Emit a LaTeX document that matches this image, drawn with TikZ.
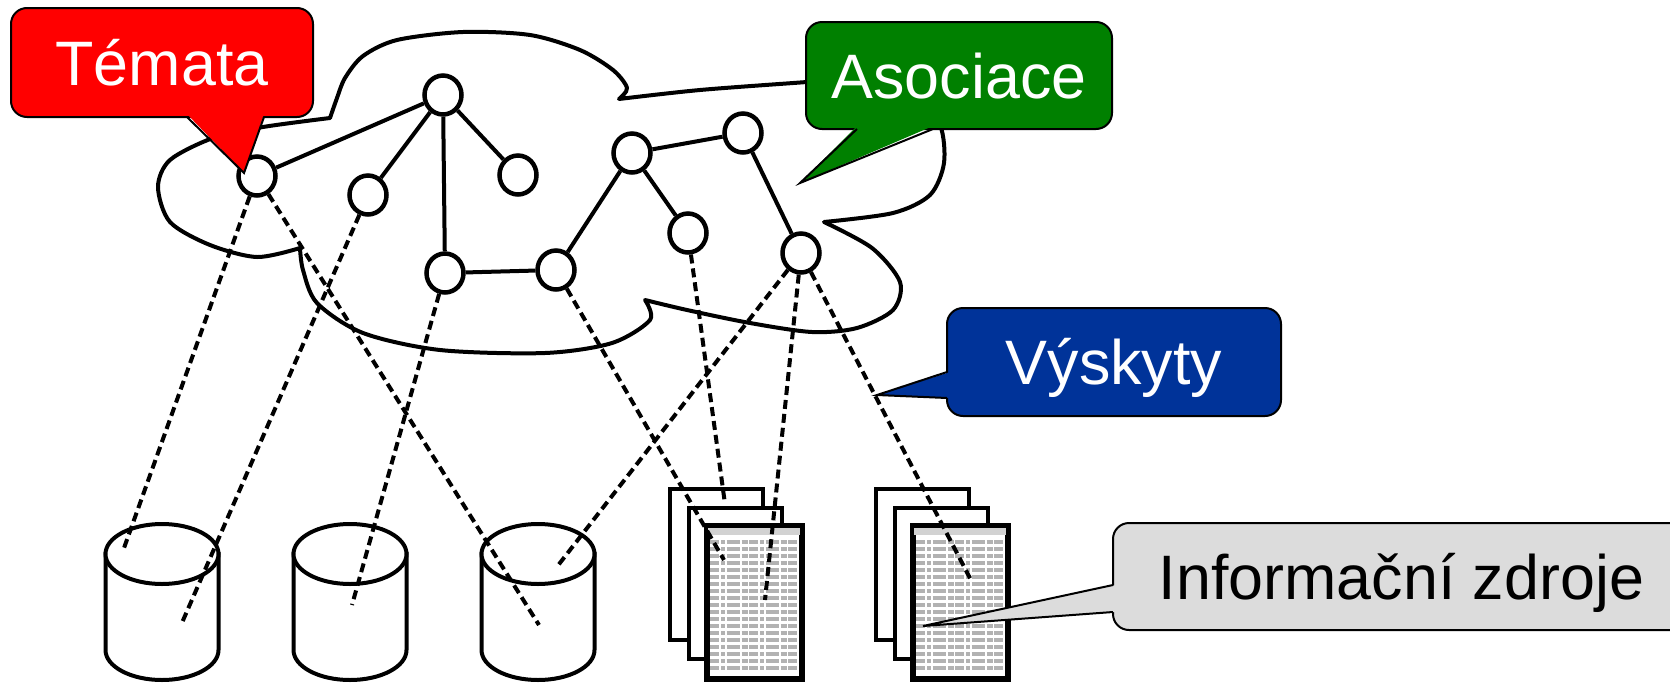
\documentclass[tikz,border=0pt]{standalone}
\usepackage{fontspec}
\setmainfont{Liberation Sans}
\usetikzlibrary{shapes.geometric}

\definecolor{temared}{RGB}{255,0,0}
\definecolor{asocgreen}{RGB}{0,128,0}
\definecolor{vyskblue}{RGB}{0,51,153}
\definecolor{zdrojgray}{RGB}{220,220,220}

\tikzset{
  topic/.style={ellipse, draw, line width=4.5pt, fill=white, minimum width=37pt, minimum height=39pt, inner sep=0pt},
  assoc/.style={line width=4pt},
  occur/.style={line width=4pt, dash pattern=on 9pt off 5pt},
  cloudline/.style={line width=4pt, line join=round},
  dbline/.style={line width=4pt, fill=white},
  page/.style={draw, line width=4pt, fill=white, minimum width=93pt, minimum height=151pt, inner sep=0pt},
  textrow/.style={gray!60, line width=3.5pt, dash pattern=on 9pt off 2pt on 4pt off 1.5pt on 13pt off 2pt on 6pt off 1.5pt},
  callbox/.style={draw, line width=2pt, rounded corners=16pt, inner sep=0pt, text height=45pt, text depth=0pt, font=\fontsize{62.8}{70}\selectfont},
  pointer/.style={draw, line width=2pt, line join=miter},
}

\begin{document}
\begin{tikzpicture}[x=1pt, y=-1pt]
\useasboundingbox (0,0) rectangle (1670,683);

% cloud of topics
\draw[cloudline] plot[smooth] coordinates {(330,118) (337,98) (345,78) (363,56) (397,40) (463,32) (530,35) (580,50) (613,70) (627,88) (619,99)}
  -- plot[smooth] coordinates {(619,99) (700,90) (807,82) (860,78)}
  -- plot[smooth] coordinates {(860,78) (915,95) (940,125) (944,163) (930,195) (893,213) (824,222)}
  -- plot[smooth] coordinates {(824,222) (872,248) (900,282) (893,310) (857,328) (812,332) (750,323) (687,310) (645,300)}
  -- plot[smooth] coordinates {(645,300) (650,320) (612,343) (545,353) (440,350) (363,333) (317,303) (303,270) (300,248)}
  -- plot[smooth] coordinates {(300,248) (257,257) (210,245) (170,222) (158,187) (170,160) (213,138) (263,127) (330,118)} -- cycle;

\node[topic] (a) at (257,176) {};
\node[topic] (b) at (443,95) {};
\node[topic] (c) at (368,195) {};
\node[topic] (d) at (518,175) {};
\node[topic] (e) at (445,273) {};
\node[topic] (f) at (556,270) {};
\node[topic] (g) at (632,153) {};
\node[topic] (h) at (743,133) {};
\node[topic] (i) at (688,233) {};
\node[topic] (j) at (801,253) {};

\foreach \u/\v in {a/b, b/c, b/d, b/e, e/f, f/g, g/h, g/i, h/j}
\draw[assoc] (\u) -- (\v);

% information resources
\foreach \s/\x in {1/716, 2/922} {
  \foreach \k in {0,1,2}
  \node[page] (doc\s\k) at (\x+19*\k, 564+19*\k) {};
  \fill[gray!35] (\x-8, 528) rectangle (\x+84, 535);
  \foreach \r in {0,...,18}
  \draw[textrow] (\x-6, 542+7*\r) -- (\x+82, 542+7*\r);
  \draw[line width=4pt] (doc\s2.south west) rectangle (doc\s2.north east);
}
\foreach \n/\x in {1/162, 2/350, 3/538} {
  \coordinate (db\n) at (\x,554);
  \filldraw[dbline] (\x-56.5,554) -- (\x-56.5,650) arc[start angle=180, end angle=360, x radius=56.5pt, y radius=30pt] -- (\x+56.5,554) -- cycle;
  \draw[dbline] (db\n) ellipse [x radius=56.5pt, y radius=30pt];
}

\coordinate (t1) at (124,548);
\coordinate (t2) at (181,625);
\coordinate (t3) at (352,605);
\coordinate (t4) at (539,625);
\coordinate (t5) at (556,568);
\coordinate (t6) at (724,560);
\coordinate (t7) at (725,504);
\coordinate (t8) at (765,600);
\coordinate (t9) at (972,582);

\draw[occur] (a) -- (t1);
\draw[occur] (a) -- (t4);
\draw[occur] (c) -- (t2);
\draw[occur] (e) -- (t3);
\draw[occur] (f) -- (t6);
\draw[occur] (i) -- (t7);
\draw[occur] (j) -- (t5);
\draw[occur] (j) -- (t8);
\draw[occur] (j) -- (t9);

% callouts
\node[callbox, fill=temared, text=white, minimum width=302pt, minimum height=109pt] (tema) at (162,62.5) {Témata};
\fill[temared] (187,114) -- (244,173) -- (264,114) -- cycle;
\draw[pointer] (187,117) -- (244,173) -- (264,117);

\node[callbox, fill=asocgreen, text=white, minimum width=306pt, minimum height=107pt] (asoc) at (959,75.5) {Asociace};
\fill[asocgreen] (857,126) -- (800,183) -- (933,126) -- cycle;
\draw[pointer] (857,129) -- (800,183) -- (933,129);

\node[callbox, fill=vyskblue, text=white, minimum width=334pt, minimum height=108pt] (vysk) at (1114,362) {Výskyty};
\fill[vyskblue] (950,372) -- (877,395) -- (950,398) -- cycle;
\draw[pointer] (947,372) -- (877,395) -- (947,398);

\node[callbox, fill=zdrojgray, minimum width=577pt, minimum height=107pt] (zdroj) at (1401.5,576.5) {Informační zdroje};
\fill[zdrojgray] (1116,585) -- (923,626) -- (1116,612) -- cycle;
\draw[pointer] (1113,585) -- (923,626) -- (1113,612);
\end{tikzpicture}
\end{document}
